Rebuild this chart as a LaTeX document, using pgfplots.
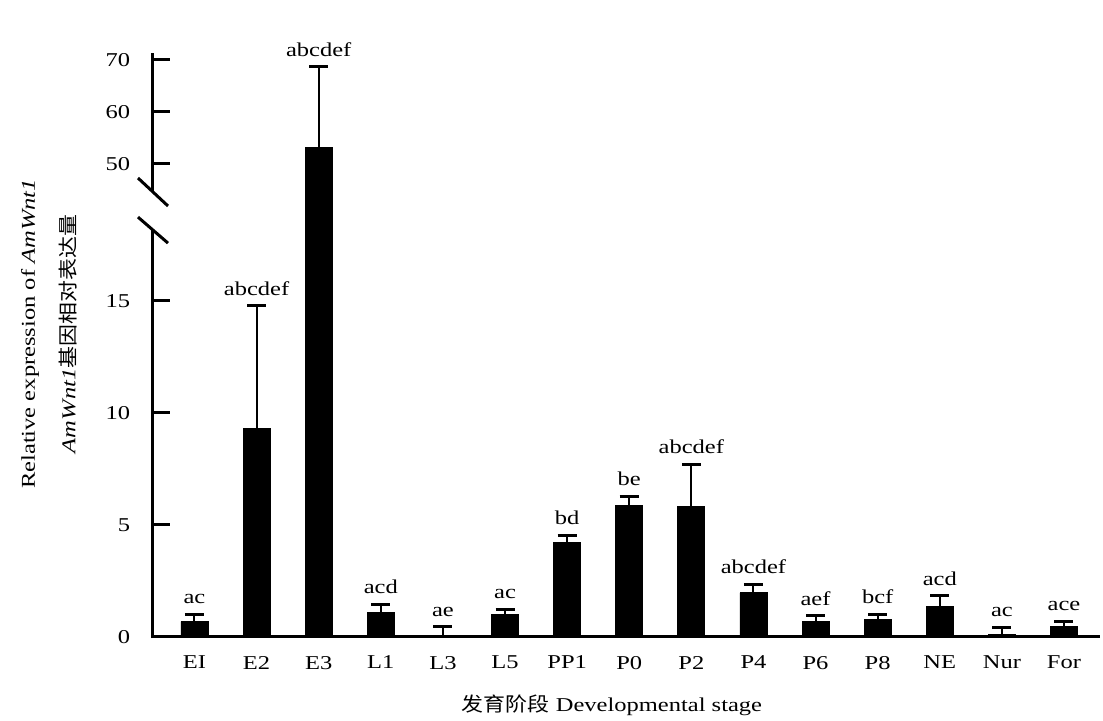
\documentclass[border=0pt]{standalone}
\usepackage{pgfplots}
\usepackage{pgfplotstable}
\pgfplotsset{compat=1.18}
\usepackage{fontspec}
\setmainfont{Liberation Serif}[FakeStretch=1.25]
\newfontfamily\cjk{Noto Sans CJK SC}[FakeStretch=1.12]

\pgfplotstableread{
x lab y e let
0 EI 0.67 0.33 ac
1 E2 9.30 5.48 abcdef
2 E3 53.15 15.5 abcdef
3 L1 1.07 0.39 acd
4 L3 0.02 0.43 ae
5 L5 1.00 0.22 ac
6 PP1 4.21 0.33 bd
7 P0 5.85 0.43 be
8 P2 5.82 1.88 abcdef
9 P4 1.96 0.38 abcdef
10 P6 0.69 0.25 aef
11 P8 0.78 0.22 bcf
12 NE 1.34 0.48 acd
13 Nur 0.12 0.30 ac
14 For 0.45 0.24 ace
}\data

\begin{document}
\fontsize{9.8pt}{11.5pt}\selectfont
\begin{tikzpicture}
\path[use as bounding box] (-76.5pt,-41.65pt) rectangle (475pt,318.35pt);
\pgfplotsset{
  common/.style={scale only axis, width=473.5pt, xmin=-0.668, xmax=14.58,
    /pgf/number format/assume math mode=true,
    tick style={line width=1.5pt, black}, major tick length=8.5pt,
    yticklabel style={xshift=-8pt},
  },
  barplot/.style={ybar, bar width=0.435, fill=black, draw=black,
    error bars/.cd, y dir=plus, y explicit,
    error bar style={line width=1pt, black},
    error mark options={rotate=90, mark size=4.75pt, line width=1.5pt, black}},
  labplot/.style={draw=none, mark=none, nodes near coords, point meta=explicit symbolic,
    nodes near coords style={anchor=south, yshift=1.7pt, black}},
}
% lower axis
\begin{axis}[common, at={(0pt,0pt)}, anchor=south west, height=222.35pt,
  ymin=0, ymax=19.85,
  axis x line*=bottom, axis y line*=left, tick align=inside,
  x axis line style={line width=1.5pt, -},
  y axis line style={draw=none},
  ytick={0,5,10,15},
  xtick=data, xticklabels from table={\data}{lab},
  xtick style={draw=none}, xticklabel style={yshift=-6.2pt},
]
\addplot[barplot] table[x=x, y=y, y error=e]{\data};
\addplot[restrict y to domain=0:19.85, labplot] table[x=x, y expr=\thisrow{y}+\thisrow{e}, meta=let]{\data};
\end{axis}
% upper axis
\begin{axis}[common, at={(0pt,222.35pt)}, anchor=south west, height=69.65pt,
  ymin=44.6, ymax=71.4,
  axis x line=none, axis y line*=left, tick align=inside,
  y axis line style={line width=1.5pt, -},
  ytick={50,60,70}, xtick=\empty,
]
\addplot[restrict y to domain=44.6:100, barplot] table[x=x, y=y, y error=e]{\data};
\addplot[restrict y to domain=44.6:100, labplot] table[x=x, y expr=\thisrow{y}+\thisrow{e}, meta=let]{\data};
\end{axis}
% broken y axis line and break marks
\draw[line width=1.5pt] (0pt,-0.75pt) -- (0pt,203.3pt);
\draw[line width=1.5pt] (-7.5pt,209.8pt) -- (7.5pt,196.8pt);
\draw[line width=1.5pt] (-7.5pt,229.35pt) -- (7.5pt,215.35pt);
\node at (-61.5pt,151.35pt) [rotate=90] {Relative expression of \textit{AmWnt1}};
\node at (-42.5pt,151.35pt) [rotate=90] {\textit{AmWnt1}{\cjk 基因相对表达量}};
\node at (229.5pt,-34.2pt) {{\cjk 发育阶段} Developmental stage};
\end{tikzpicture}
\end{document}
